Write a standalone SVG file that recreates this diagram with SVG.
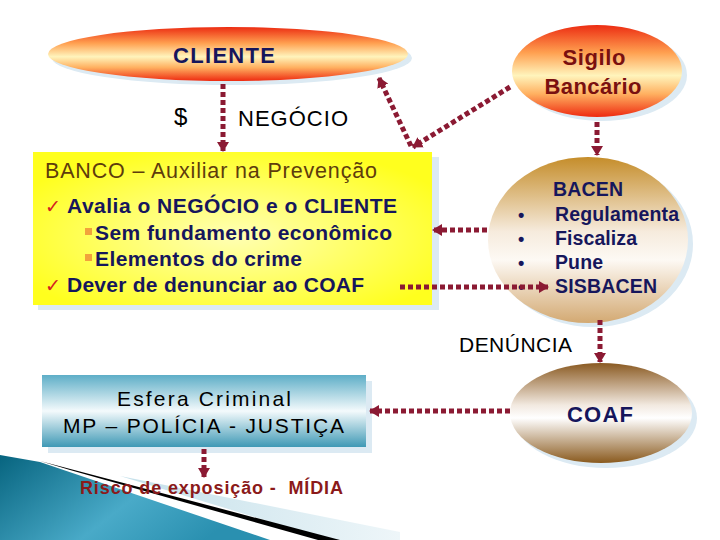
<svg xmlns="http://www.w3.org/2000/svg" width="720" height="540" viewBox="0 0 720 540">
  <style>
    text { font-family: "Liberation Sans", Arial, sans-serif; }
    .navy { fill: #16165c; font-weight: bold; }
    .conn { fill: none; stroke: #8b1a33; stroke-width: 5; stroke-dasharray: 5 3; marker-end: url(#ah); }
    .shadow { fill: #dceaf3; }
    .chk { font-family: "DejaVu Sans", sans-serif; fill: #d42020; font-size: 19px; }
    .sq { fill: #f2a23c; }
  </style>
  <defs>
    <marker id="ah" markerUnits="userSpaceOnUse" markerWidth="11" markerHeight="12" refX="9" refY="6" orient="auto">
      <path d="M0,0 L10,6 L0,12 z" fill="#8b1a33"/>
    </marker>
    <linearGradient id="gRed" x1="0" y1="0" x2="0" y2="1">
      <stop offset="0" stop-color="#ec2c12"/>
      <stop offset="0.3" stop-color="#ffa050"/>
      <stop offset="0.55" stop-color="#fff4bc"/>
      <stop offset="0.75" stop-color="#ffb060"/>
      <stop offset="1" stop-color="#ee2a10"/>
    </linearGradient>
    <linearGradient id="gBacen" x1="0" y1="0" x2="0" y2="1">
      <stop offset="0" stop-color="#c58d2a"/>
      <stop offset="0.45" stop-color="#f6ebdd"/>
      <stop offset="0.62" stop-color="#fdf9f4"/>
      <stop offset="1" stop-color="#d3a972"/>
    </linearGradient>
    <linearGradient id="gCoaf" x1="0" y1="0" x2="0" y2="1">
      <stop offset="0" stop-color="#8a5a22"/>
      <stop offset="0.42" stop-color="#f2e9e0"/>
      <stop offset="0.55" stop-color="#ffffff"/>
      <stop offset="1" stop-color="#8a5a1e"/>
    </linearGradient>
    <radialGradient id="gYel" cx="0.5" cy="0.55" r="0.6">
      <stop offset="0" stop-color="#ffffb4"/>
      <stop offset="1" stop-color="#ffff1e"/>
    </radialGradient>
    <linearGradient id="gEsf" x1="0" y1="0" x2="0" y2="1">
      <stop offset="0" stop-color="#5eaec7"/>
      <stop offset="0.5" stop-color="#f4fafc"/>
      <stop offset="1" stop-color="#3f99b5"/>
    </linearGradient>
    <linearGradient id="gTeal" x1="0" y1="0" x2="1" y2="0.4">
      <stop offset="0" stop-color="#07647f"/>
      <stop offset="0.6" stop-color="#49aac8"/>
      <stop offset="1" stop-color="#2a90b0"/>
    </linearGradient>
    <linearGradient id="gPale" x1="0" y1="0" x2="1" y2="0">
      <stop offset="0" stop-color="#c4e0ea"/>
      <stop offset="1" stop-color="#eef6f9"/>
    </linearGradient>
  </defs>

  <rect width="720" height="540" fill="#ffffff"/>

  <!-- bottom-left decoration -->
  <g id="decoration">
    <polygon points="120,476 400,532 400,540 330,540" fill="url(#gPale)"/>
    <polygon points="0,455 40,462 270,540 0,540" fill="url(#gTeal)"/>
    <polygon points="40,461 340,540 318,540 70,470" fill="#000000"/>
  </g>

  <g id="cliente">
    <ellipse class="shadow" cx="232" cy="58" rx="180" ry="27"/>
    <ellipse cx="228" cy="54" rx="180" ry="27" fill="url(#gRed)"/>
    <text x="224" y="63" text-anchor="middle" font-size="22" font-weight="bold" fill="#16165c" textLength="102" lengthAdjust="spacing">CLIENTE</text>
  </g>

  <g id="dolar">
    <text x="174" y="125" font-size="24" fill="#000">$</text>
  </g>
  <g id="negocio">
    <text x="238" y="126" font-size="22" fill="#000" textLength="110" lengthAdjust="spacing">NEGÓCIO</text>
  </g>

  <g id="sigilo">
    <ellipse class="shadow" cx="602" cy="75" rx="85" ry="46"/>
    <ellipse cx="597" cy="71" rx="85" ry="46" fill="url(#gRed)"/>
    <text x="594" y="65" text-anchor="middle" font-size="22" font-weight="bold" fill="#7a1010" textLength="63" lengthAdjust="spacing">Sigilo</text>
    <text x="593" y="94" text-anchor="middle" font-size="22" font-weight="bold" fill="#7a1010" textLength="97" lengthAdjust="spacing">Bancário</text>
  </g>

  <g id="banco">
    <rect class="shadow" x="38" y="157" width="401" height="153"/>
    <rect x="33" y="152" width="399" height="153" fill="url(#gYel)"/>
    <text x="45" y="178" font-size="21.5" fill="#5e3c0c" textLength="332" lengthAdjust="spacing">BANCO – Auxiliar na Prevenção</text>
    <text class="chk" x="45" y="213">✓</text>
    <text class="navy" x="67" y="213" font-size="21" textLength="330" lengthAdjust="spacing">Avalia o NEGÓCIO e o CLIENTE</text>
    <rect class="sq" x="85" y="228" width="7" height="7"/>
    <text class="navy" x="95" y="240" font-size="21" textLength="297" lengthAdjust="spacing">Sem fundamento econômico</text>
    <rect class="sq" x="85" y="254" width="7" height="7"/>
    <text class="navy" x="95" y="266" font-size="21" textLength="207" lengthAdjust="spacing">Elementos do crime</text>
    <text class="chk" x="45" y="292">✓</text>
    <text class="navy" x="67" y="292" font-size="21" textLength="297" lengthAdjust="spacing">Dever de denunciar ao COAF</text>
  </g>

  <g id="bacen">
    <ellipse class="shadow" cx="593" cy="244" rx="100" ry="83"/>
    <ellipse cx="588" cy="240" rx="100" ry="83" fill="url(#gBacen)"/>
    <text class="navy" x="553" y="196" font-size="19.5" textLength="70" lengthAdjust="spacing">BACEN</text>
    <text class="navy" x="518" y="221" font-size="18">•</text>
    <text class="navy" x="555" y="221" font-size="19.5" textLength="124" lengthAdjust="spacing">Regulamenta</text>
    <text class="navy" x="518" y="245" font-size="18">•</text>
    <text class="navy" x="555" y="245" font-size="19.5" textLength="82" lengthAdjust="spacing">Fiscaliza</text>
    <text class="navy" x="518" y="269" font-size="18">•</text>
    <text class="navy" x="555" y="269" font-size="19.5" textLength="48" lengthAdjust="spacing">Pune</text>
    <text class="navy" x="518" y="293" font-size="18">•</text>
    <text class="navy" x="555" y="293" font-size="19.5" textLength="102" lengthAdjust="spacing">SISBACEN</text>
  </g>

  <g id="denuncia">
    <text x="459" y="352" font-size="21" fill="#000" textLength="113" lengthAdjust="spacing">DENÚNCIA</text>
  </g>

  <g id="coaf">
    <ellipse class="shadow" cx="606" cy="418" rx="91" ry="50"/>
    <ellipse cx="601" cy="413" rx="91" ry="50" fill="url(#gCoaf)"/>
    <text class="navy" x="567" y="422" font-size="22" textLength="66" lengthAdjust="spacing">COAF</text>
  </g>

  <g id="esfera">
    <rect class="shadow" x="48" y="381" width="324" height="72"/>
    <rect x="42" y="375" width="324" height="72" fill="url(#gEsf)"/>
    <text x="117" y="406" font-size="21" fill="#000" textLength="174" lengthAdjust="spacing">Esfera Criminal</text>
    <text x="63" y="433" font-size="21" fill="#000" textLength="281" lengthAdjust="spacing">MP – POLÍCIA - JUSTIÇA</text>
  </g>

  <g id="risco">
    <text x="80" y="494" font-size="18" font-weight="bold" fill="#8b1a1a" xml:space="preserve" textLength="263" lengthAdjust="spacing">Risco de exposição -  MÍDIA</text>
  </g>

  <g id="connectors">
    <line class="conn" x1="223" y1="84" x2="223" y2="151"/>
    <line class="conn" x1="510" y1="87" x2="413" y2="147"/>
    <line class="conn" x1="411" y1="146" x2="379" y2="78"/>
    <line class="conn" x1="597" y1="122" x2="597" y2="155"/>
    <line class="conn" x1="487" y1="230" x2="433" y2="230"/>
    <line class="conn" x1="400" y1="287" x2="548" y2="287"/>
    <line class="conn" x1="600" y1="320" x2="600" y2="362"/>
    <line class="conn" x1="510" y1="411" x2="370" y2="411"/>
    <line class="conn" x1="204" y1="449" x2="204" y2="477"/>
  </g>
</svg>
